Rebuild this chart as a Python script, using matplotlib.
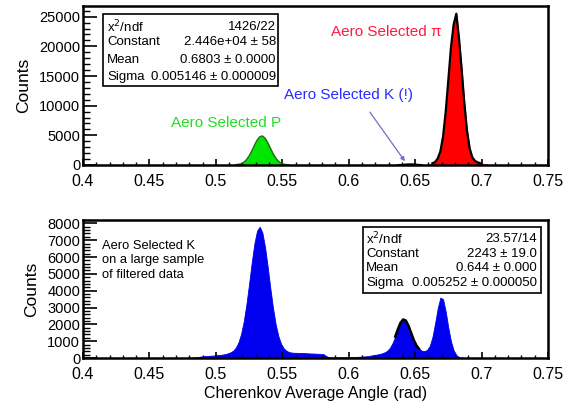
import numpy as np
import matplotlib
matplotlib.use('Agg')
from matplotlib import pyplot as plt
from matplotlib.patches import Rectangle
from matplotlib.ticker import MultipleLocator

plt.rcParams['font.family'] = ['Liberation Sans', 'DejaVu Sans']

BIN = 0.002

# top panel: aerogel-selected samples
pi_start = 0.660
pi_counts = [150, 300, 500, 1100, 2300, 4780, 8950, 14390, 19920, 23690, 25500,
             21310, 16120, 10480, 5850, 2820, 1300, 700, 450, 300, 200, 120, 60]
p_start = 0.514
p_counts = [60, 120, 215, 458, 877, 1515, 2357, 3307, 4180, 4760, 4900, 4518,
            3765, 2830, 1913, 1168, 642, 317, 142, 60, 30]
k_start = 0.636
k_counts = [20, 40, 70, 110, 140, 150, 130, 90, 50, 20]

# bottom panel: aerogel-selected K, large filtered sample
kl_start = 0.480
kl_counts = [20, 30, 40, 60, 90, 110, 120, 130, 140, 150,
             170, 180, 205, 230, 277, 338, 434, 613, 930, 1433,
             2183, 3195, 4403, 5670, 6802, 7560, 7800, 7448, 6593, 5424,
             4149, 2973, 2014, 1315, 856, 582, 431, 356, 322, 310,
             305, 300, 295, 290, 280, 270, 265, 260, 250, 240,
             230, 120, 40, 30, 30, 30, 40, 40, 40, 50,
             50, 60, 60, 70, 80, 90, 100, 120, 150, 180,
             201, 234, 275, 336, 431, 604, 889, 1269, 1710, 2095,
             2291, 2224, 1918, 1488, 1067, 743, 537, 433, 409, 482,
             717, 1240, 2057, 2960, 3590, 3495, 2760, 1785, 970, 455,
             175, 54, 10, 5]

top_stats = [('x$^2$/ndf', '1426/22'), ('Constant', '2.446e+04 \u00b1 58'),
             ('Mean', '0.6803 \u00b1 0.0000'), ('Sigma', '0.005146 \u00b1 0.000009')]
bot_stats = [('x$^2$/ndf', '23.57/14'), ('Constant', '2243 \u00b1 19.0'),
             ('Mean', '0.644 \u00b1 0.000'), ('Sigma', '0.005252 \u00b1 0.000050')]

W, H = 573, 412
fig = plt.figure(figsize=(W/100, H/100), dpi=100)
ax1 = fig.add_axes([83/W, 1-165/H, 465/W, 159/H])
ax2 = fig.add_axes([83/W, 1-358/H, 465/W, 138/H])


def centers(start, counts):
    return start + BIN*(np.arange(len(counts)) + 0.5)


def hist(ax, start, counts, color):
    c = centers(start, counts)
    ax.fill_between(c, 0, counts, color=color, lw=0.6, edgecolor=color)


def outline(ax, start, counts, lo, hi, color, lw=1.3):
    c = centers(start, counts)
    v = np.array(counts)
    sel = (c >= lo) & (c <= hi)
    ax.plot(c[sel], v[sel], color=color, lw=lw)


hist(ax1, pi_start, pi_counts, '#ff0000')
hist(ax1, p_start, p_counts, '#00e600')
hist(ax1, k_start, k_counts, '#0000ee')
outline(ax1, pi_start, pi_counts, 0.662, 0.700, 'black', 1.6)
outline(ax1, p_start, p_counts, 0.514, 0.556, '#1f6b1f', 1.0)
outline(ax1, k_start, k_counts, 0.636, 0.656, 'black', 1.2)

hist(ax2, kl_start, kl_counts, '#0000ee')
outline(ax2, kl_start, kl_counts, 0.634, 0.654, 'black', 1.8)

for ax, ymax, ymaj, ymin in [(ax1, 26800, 5000, 1000), (ax2, 8200, 1000, 200)]:
    ax.set_xlim(0.4, 0.75)
    ax.set_ylim(0, ymax)
    ax.xaxis.set_major_locator(MultipleLocator(0.05))
    ax.xaxis.set_minor_locator(MultipleLocator(0.01))
    ax.yaxis.set_major_locator(MultipleLocator(ymaj))
    ax.yaxis.set_minor_locator(MultipleLocator(ymin))
    ax.tick_params(axis='x', which='major', direction='in', length=4.5, width=1.2,
                   labelsize=11.5, pad=6.5)
    ax.tick_params(axis='x', which='minor', direction='in', length=2.3, width=1.0)
    ax.tick_params(axis='y', which='major', direction='in', length=10, width=1.2,
                   labelsize=10.5, pad=2)
    ax.tick_params(axis='y', which='minor', direction='in', length=5, width=1.0)
    ax.xaxis.set_major_formatter(matplotlib.ticker.FuncFormatter(
        lambda v, p: ('%.2f' % v).rstrip('0').rstrip('.')))
    for s in ax.spines.values():
        s.set_linewidth(1.8)
    ax.set_ylabel('Counts', fontsize=12.5, labelpad=6)

ax2.set_xlabel('Cherenkov Average Angle (rad)', fontsize=11.5, labelpad=3)

ax1.text(0.587, 22470, 'Aero Selected \u03c0', color='#ff1a40', fontsize=11, va='center')
ax1.text(0.551, 11820, 'Aero Selected K (!)', color='#2b2bff', fontsize=11, va='center')
ax1.text(0.466, 7095, 'Aero Selected P', color='#22dd22', fontsize=11, va='center')
ax1.annotate('', xy=(0.6435, 250), xytext=(0.6147, 9300),
             arrowprops=dict(arrowstyle='-|>', color='#7070c0', lw=0.9,
                             mutation_scale=6))

ax2.text(102/W, 1-240/H, 'Aero Selected K\non a large sample\nof filtered data',
         transform=fig.transFigure, fontsize=9.3, va='top', linespacing=1.25)


def stats_box(x0, x1, ys, xl, xr, rows):
    fig.patches.append(Rectangle((x0/W, 1-ys[1]/H), (x1-x0)/W, (ys[1]-ys[0])/H,
                                 transform=fig.transFigure, facecolor='white',
                                 edgecolor='black', lw=1.2, zorder=5))
    for (name, val), y in zip(rows, ys[2:]):
        fig.text(xl/W, 1-y/H, name, fontsize=9.5, va='center', ha='left', zorder=6)
        fig.text(xr/W, 1-y/H, val, fontsize=9.5, va='center', ha='right', zorder=6)


stats_box(103, 278, [14, 86, 27, 42, 60, 77], 107, 276, top_stats)
stats_box(363, 541, [227, 293, 239, 254, 268, 283], 366, 537, bot_stats)

fig.savefig('out.png', dpi=100)
